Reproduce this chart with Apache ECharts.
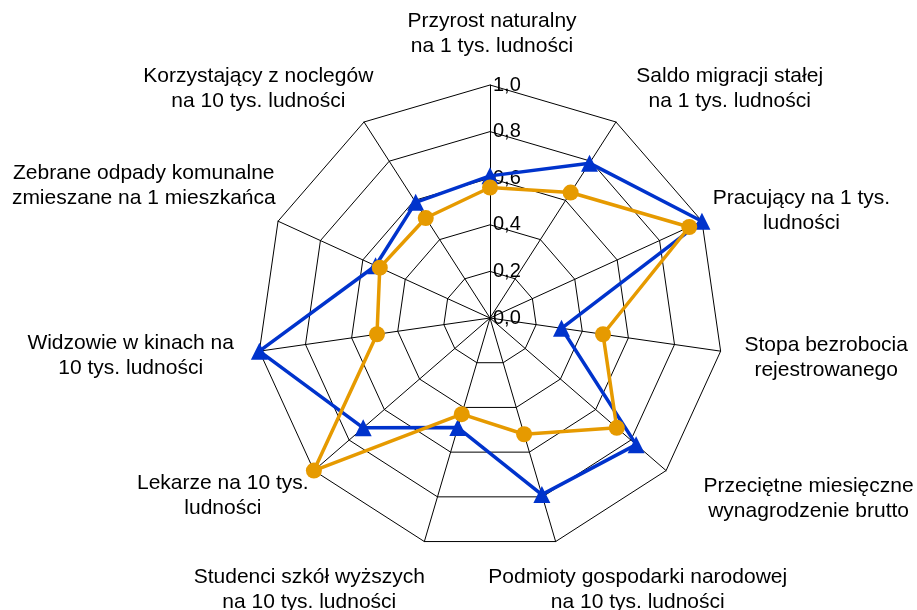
<!DOCTYPE html>
<html>
<head>
<meta charset="utf-8">
<script src="https://cdn.jsdelivr.net/npm/echarts@6/dist/echarts.min.js"></script>
<style>
  html, body { margin: 0; padding: 0; background: #ffffff; }
  #chart { width: 917px; height: 610px; }
</style>
</head>
<body>
<div id="chart"></div>
<script>
// Indicator names (one per spoke, clockwise from the top)
const indicatorNames = [
  'Przyrost naturalny\nna 1 tys. ludności',
  'Saldo migracji stałej\nna 1 tys. ludności',
  'Pracujący na 1 tys.\nludności',
  'Stopa bezrobocia\nrejestrowanego',
  'Przeciętne miesięczne\nwynagrodzenie brutto',
  'Podmioty gospodarki narodowej\nna 10 tys. ludności',
  'Studenci szkół wyższych\nna 10 tys. ludności',
  'Lekarze na 10 tys.\nludności',
  'Widzowie w kinach na\n10 tys. ludności',
  'Zebrane odpady komunalne\nzmieszane na 1 mieszkańca',
  'Korzystający z noclegów\nna 10 tys. ludności'
];

// Normalised values of the two compared units (same order as the names)
const seriesBlue   = [0.61, 0.79, 1.00, 0.31, 0.83, 0.79, 0.49, 0.72, 1.00, 0.54, 0.59];
const seriesOrange = [0.56, 0.64, 0.94, 0.49, 0.72, 0.52, 0.43, 1.00, 0.49, 0.52, 0.51];

// Scale of the radial axis
const axisMax = 1.0;
const axisSplits = 5;

// Name placement per spoke: gap beyond the outer vertex and extra sideways shift (px)
const nameGaps   = [51, 39.4, 24.4, 44, 43, 50, 50, 38.5, 30, 84.3, 39.4];
const nameSideDx = [2, 92.4, 77.3, 62, 110, 68, -101, -62, -99, -57.6, -84.4];

const FONT = '"Liberation Sans", Arial, Helvetica, sans-serif';

// ECharts lays radar spokes out counter-clockwise; walk the list backwards
// (keeping the first spoke on top) so the spokes run clockwise.
const order = indicatorNames.map((_, i) => (indicatorNames.length - i) % indicatorNames.length);
const reorder = arr => order.map(i => arr[i]);

const indicators = order.map((i, pos) => {
  const dx = nameSideDx[i];
  const ind = {
    name: indicatorNames[i],
    max: axisMax,
    min: 0,
    nameGap: nameGaps[i],
    nameTextStyle: {
      align: 'center',
      verticalAlign: 'middle',
      lineHeight: 25,
      padding: [0, Math.max(0, -2 * dx), 0, Math.max(0, 2 * dx)]
    }
  };
  if (pos === 0) ind.axisLabel = { show: true };
  return ind;
});

const chart = echarts.init(document.getElementById('chart'), null, { renderer: 'canvas' });

chart.setOption({
  backgroundColor: '#ffffff',
  animation: false,
  radar: {
    center: [490, 318],
    radius: 233,
    startAngle: 90,
    shape: 'polygon',
    splitNumber: axisSplits,
    axisNameGap: 0,
    axisName: {
      color: '#000000',
      fontFamily: FONT,
      fontSize: 21
    },
    axisLine: { show: true, lineStyle: { color: '#000000', width: 1 } },
    axisTick: { show: false },
    axisLabel: {
      show: false,
      color: '#000000',
      fontFamily: FONT,
      fontSize: 20,
      margin: -3,
      align: 'left',
      formatter: v => Number(v).toFixed(1).replace('.', ',')
    },
    splitLine: { lineStyle: { color: '#000000', width: 1 } },
    splitArea: { show: false },
    indicator: indicators
  },
  series: [
    {
      type: 'radar',
      z: 2,
      data: [{
        value: reorder(seriesBlue),
        symbol: 'triangle',
        symbolSize: 17,
        lineStyle: { color: '#0033CC', width: 3.5 },
        itemStyle: { color: '#0033CC' }
      }]
    },
    {
      type: 'radar',
      z: 3,
      data: [{
        value: reorder(seriesOrange),
        symbol: 'circle',
        symbolSize: 16,
        lineStyle: { color: '#E69A00', width: 3.5 },
        itemStyle: { color: '#E69A00' }
      }]
    }
  ]
});
</script>
</body>
</html>
